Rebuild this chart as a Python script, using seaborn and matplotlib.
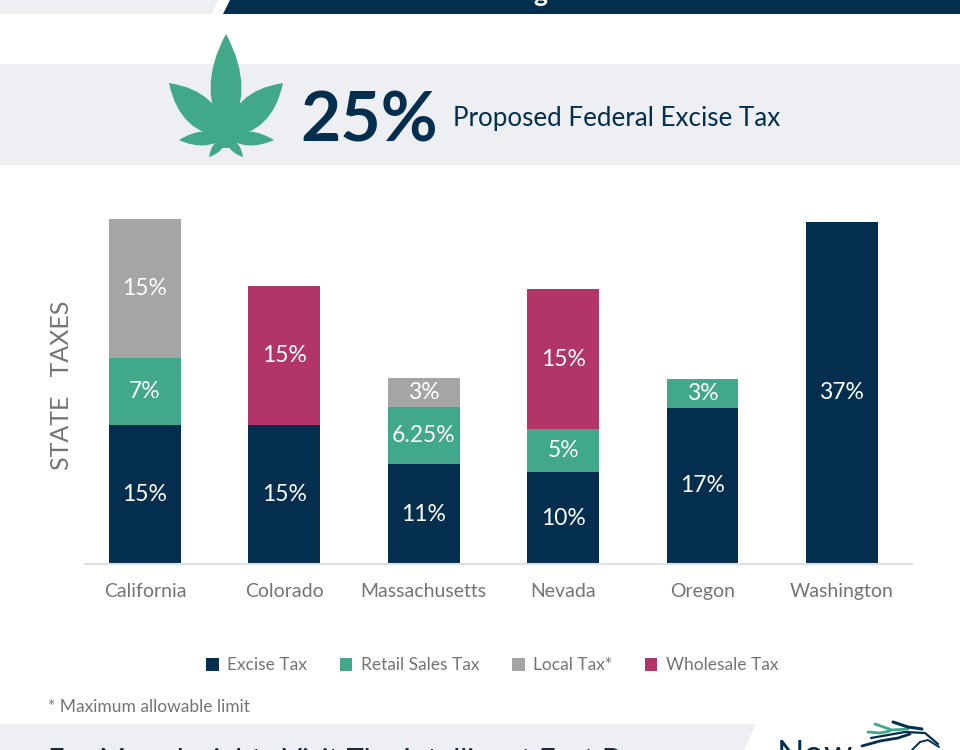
#!/usr/bin/env python3
"""Stacked state cannabis tax bars with the header and footer bands around them."""

import matplotlib

matplotlib.use("Agg")

import matplotlib.pyplot as plt
import numpy as np
import seaborn as sns
from matplotlib.patches import PathPatch, Polygon, Rectangle
from matplotlib.path import Path as MPath

STATES = ["California", "Colorado", "Massachusetts", "Nevada", "Oregon", "Washington"]
EXCISE = [15, 15, 10.8, 9.9, 16.9, 37]
RETAIL = [7.3, 0, 6.2, 4.7, 3.1, 0]
LOCAL = [15, 0, 3.1, 0, 0, 0]
WHOLESALE = [0, 15, 0, 15.1, 0, 0]

EXCISE_LABELS = ["15%", "15%", "11%", "10%", "17%", "37%"]
RETAIL_LABELS = ["7%", "", "6.25%", "5%", "3%", ""]
LOCAL_LABELS = ["15%", "", "3%", "", "", ""]
WHOLESALE_LABELS = ["", "15%", "", "15%", "", ""]

NAVY = "#032e4e"
GREEN = "#41a98a"
GRAY = "#a5a5a5"
MAGENTA = "#b13568"
BAND = "#edeff2"
TEXT = "#737476"
W, H = 960, 750


def leaf_blade(tip, width, base=(226, 137)):
    """Closed blade from the stem out to tip, in pixel coordinates."""
    base, tip = np.array(base, float), np.array(tip, float)
    axis = tip - base
    normal = np.array([-axis[1], axis[0]]) / np.hypot(*axis)
    a = base + axis * 0.45 + normal * width
    b = base + axis * 0.45 - normal * width
    verts = [base, a, tip, tip, b, base, base]
    codes = [MPath.MOVETO, MPath.CURVE3, MPath.CURVE3, MPath.LINETO, MPath.CURVE3, MPath.CURVE3, MPath.CLOSEPOLY]
    return PathPatch(MPath(verts, codes), facecolor=GREEN, edgecolor="none")


def draw_page(page):
    """Bands, leaf, headline and footer drawn in pixel coordinates."""
    page.set_xlim(0, W)
    page.set_ylim(H, 0)
    page.axis("off")
    page.add_patch(Rectangle((0, 64), W, 101, color=BAND, lw=0))
    page.add_patch(Polygon([(0, 0), (218, 0), (212, 14), (0, 14)], color=BAND, lw=0))
    page.add_patch(Polygon([(230, 0), (W, 0), (W, 14), (223, 14)], color=NAVY, lw=0))
    page.add_patch(Polygon([(0, 724), (756, 724), (744, 750), (0, 750)], color=BAND, lw=0))

    for tip, width in [((226, 34), 31), ((169, 83), 30), ((283, 83), 30), ((179, 140), 14),
                       ((274, 140), 14), ((209, 157), 9), ((243, 157), 9)]:
        page.add_patch(leaf_blade(tip, width))
    page.add_patch(Rectangle((222, 118), 8, 30, color=GREEN, lw=0))

    page.text(540, 2, "g", color="white", fontsize=19, ha="center", va="baseline", fontweight="bold")
    page.text(300, 142, "25%", color=NAVY, fontsize=50, fontweight="bold", va="baseline")
    page.text(453, 126, "Proposed Federal Excise Tax", color=NAVY, fontsize=18.7, va="baseline")
    page.text(48, 712, "* Maximum allowable limit", color=TEXT, fontsize=12.5, va="baseline")
    page.text(48, 769, "For More Insights Visit The Intelligent Fact Base", color="#1d2a35",
              fontsize=21, va="baseline")
    page.text(777, 766, "Now", color=NAVY, fontsize=26, va="baseline")

    # horse mark of the logo, rough strokes only
    for xs, ys, color, lw in [([871, 888, 905, 925, 938], [738, 735, 732, 733, 744], NAVY, 1.6),
                              ([875, 892, 908], [724, 730, 729], GREEN, 2.0),
                              ([893, 908, 922], [722, 727, 729], NAVY, 2.2),
                              ([862, 880, 898, 910], [746, 741, 738, 734], NAVY, 2.0),
                              ([868, 880, 890], [732, 733, 731], GREEN, 2.0),
                              ([912, 920, 928, 939], [750, 742, 740, 747], NAVY, 1.4)]:
        page.plot(xs, ys, color=color, lw=lw, solid_capstyle="round")


def main():
    sns.set_theme(style="white")
    plt.rcParams["font.family"] = ["Lato", "DejaVu Sans"]
    fig = plt.figure(figsize=(W / 100, H / 100), dpi=100)
    page = fig.add_axes([0, 0, 1, 1], zorder=0)
    draw_page(page)

    ax = fig.add_axes([85 / W, (H - 564) / H, 827 / W, 364 / H], zorder=1)
    ax.patch.set_alpha(0)
    bottom = np.zeros(len(STATES))
    series = [
        (EXCISE, EXCISE_LABELS, NAVY, "Excise Tax"),
        (RETAIL, RETAIL_LABELS, GREEN, "Retail Sales Tax"),
        (LOCAL, LOCAL_LABELS, GRAY, "Local Tax*"),
        (WHOLESALE, WHOLESALE_LABELS, MAGENTA, "Wholesale Tax"),
    ]
    for values, labels, color, name in series:
        sns.barplot(x=STATES, y=values, bottom=bottom, color=color, saturation=1, width=0.516,
                    linewidth=0, edgecolor="none", label=name, legend=False, ax=ax)
        ax.bar_label(ax.containers[-1], labels=labels, label_type="center", color="white", fontsize=16.5)
        bottom = bottom + np.array(values)

    ax.set_xlim(-0.43, 5.503)
    ax.set_ylim(0, 39.34)
    ax.set_yticks([])
    ax.set_ylabel("STATE   TAXES", color=TEXT, fontsize=18)
    ax.yaxis.set_label_coords(-0.0145, 0.49)
    ax.tick_params(axis="x", length=0, pad=14, labelsize=14, labelcolor=TEXT)
    sns.despine(ax=ax, left=True)
    ax.spines["bottom"].set_color("#dedfe0")
    ax.spines["bottom"].set_linewidth(1.5)

    ax.legend(loc="center", bbox_to_anchor=(492.5 / W, (H - 665.5) / H), bbox_transform=fig.transFigure,
              ncol=4, frameon=False, fontsize=12.5, labelcolor=TEXT, handlelength=0.7, handleheight=0.85,
              handletextpad=0.5, columnspacing=1.9)

    fig.savefig("out.png", dpi=100)
    plt.close(fig)


if __name__ == "__main__":
    main()
